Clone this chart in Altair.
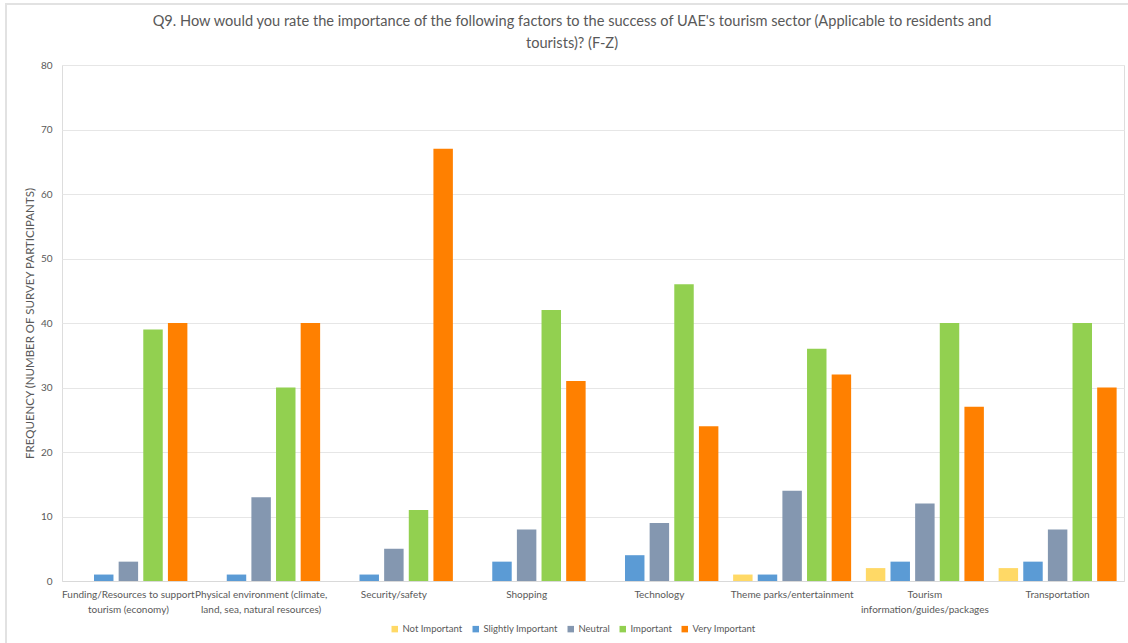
import altair as alt
import pandas as pd

title_lines = [
    "Q9. How would you rate the importance of the following factors to the success of UAE's tourism sector (Applicable to residents and",
    "tourists)? (F-Z)",
]
categories = [
    "Funding/Resources to support tourism (economy)",
    "Physical environment (climate, land, sea, natural resources)",
    "Security/safety",
    "Shopping",
    "Technology",
    "Theme parks/entertainment",
    "Tourism information/guides/packages",
    "Transportation",
]
label_lines = [
    ["Funding/Resources to support", "tourism (economy)"],
    ["Physical environment (climate,", "land, sea, natural resources)"],
    ["Security/safety"],
    ["Shopping"],
    ["Technology"],
    ["Theme parks/entertainment"],
    ["Tourism", "information/guides/packages"],
    ["Transportation"],
]
series = ["Not Important", "Slightly Important", "Neutral", "Important", "Very Important"]
colors = ["#FFD966", "#5B9BD5", "#8497B0", "#92D050", "#FF8000"]

not_important = [0, 0, 0, 0, 0, 1, 2, 2]
slightly_important = [1, 1, 1, 3, 4, 1, 3, 3]
neutral = [3, 13, 5, 8, 9, 14, 12, 8]
important = [39, 30, 11, 42, 46, 36, 40, 40]
very_important = [40, 40, 67, 31, 24, 32, 27, 30]

values = [not_important, slightly_important, neutral, important, very_important]
rows = []
for s, vals in zip(series, values):
    for c, v in zip(categories, vals):
        rows.append({"Factor": c, "Rating": s, "Count": v})
df = pd.DataFrame(rows)

# label expression for multi-line axis labels
expr = "datum.label"
for c, lines in reversed(list(zip(categories, label_lines))):
    arr = "[" + ",".join("'" + l + "'" for l in lines) + "]"
    expr = f"datum.label == '{c}' ? {arr} : ({expr})"

FONT = "Lato"
GREY = "#595959"

bars = alt.Chart(df).mark_bar().encode(
    x=alt.X(
        "Factor:N",
        sort=categories,
        scale=alt.Scale(paddingInner=0.111, paddingOuter=0.0555),
        axis=alt.Axis(
            title=None,
            labelAngle=0,
            labelExpr=expr,
            labelFont=FONT,
            labelFontSize=10,
            labelColor=GREY,
            labelLineHeight=15,
            labelPadding=8,
            ticks=False,
            domainColor="#d9d9d9",
            grid=False,
        ),
    ),
    xOffset=alt.XOffset(
        "Rating:N",
        sort=series,
        scale=alt.Scale(paddingInner=0.21, paddingOuter=0),
    ),
    y=alt.Y(
        "Count:Q",
        scale=alt.Scale(domain=[0, 80]),
        axis=alt.Axis(
            title="FREQUENCY (NUMBER OF SURVEY PARTICIPANTS)",
            titleFont=FONT,
            titleFontSize=11.5,
            titleFontWeight="normal",
            titleColor=GREY,
            titlePadding=5,
            values=[0, 10, 20, 30, 40, 50, 60, 70, 80],
            labelFont=FONT,
            labelFontSize=10,
            labelColor=GREY,
            labelPadding=10,
            ticks=False,
            domain=False,
            gridColor="#e6e6e6",
        ),
    ),
    color=alt.Color(
        "Rating:N",
        sort=series,
        scale=alt.Scale(domain=series, range=colors),
        legend=alt.Legend(
            title=None,
            orient="none",
            direction="horizontal",
            legendX=328,
            legendY=559,
            symbolType="square",
            symbolSize=42,
            symbolStrokeWidth=0,
            labelFont=FONT,
            labelFontSize=9.5,
            labelColor=GREY,
            columnPadding=8,
            labelOffset=3,
        ),
    ),
)

frame = alt.Chart(df).mark_rect(fill=None, stroke="#e2e2e2", strokeWidth=2).encode(
    x=alt.value(-56), x2=alt.value(1080), y=alt.value(-61), y2=alt.value(600)
)

title_layers = []
for i, line in enumerate(title_lines):
    t = alt.Chart(pd.DataFrame({"t": [line]})).mark_text(
        font=FONT, fontSize=14.6, color=GREY, align="center", baseline="middle"
    ).encode(
        text="t:N",
        x=alt.value(510),
        y=alt.value(-43 + 22 * i),
    )
    title_layers.append(t)

chart = alt.layer(frame, bars, *title_layers).properties(
    width=1062,
    height=516,
    padding={"left": 62, "top": 65, "right": 4, "bottom": 62},
    autosize=alt.AutoSizeParams(type="none"),
).configure_view(stroke=None).configure(background="white")

chart.save("out.html", embed_options={"renderer": "svg", "actions": False})
